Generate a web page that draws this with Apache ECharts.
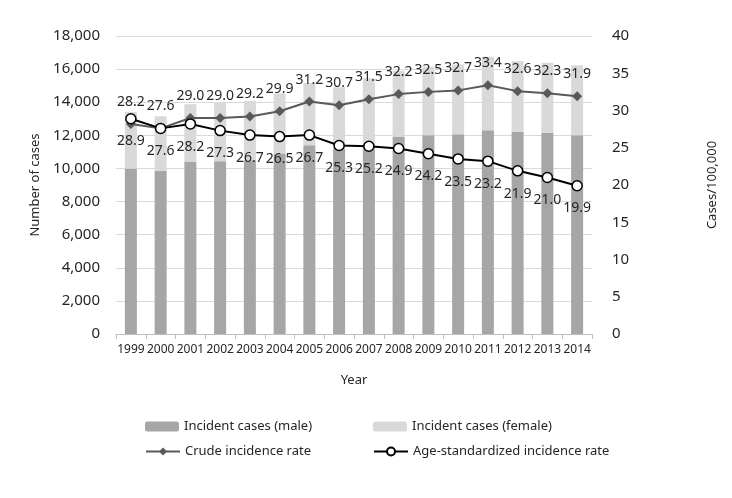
<!DOCTYPE html>
<html>
<head>
<meta charset="utf-8">
<script src="https://cdn.jsdelivr.net/npm/echarts@6/dist/echarts.min.js"></script>
<style>
html,body{margin:0;padding:0;background:#fff;}
#chart{width:732px;height:498px;}
</style>
</head>
<body>
<div id="chart"></div>
<script>
var years = ['1999','2000','2001','2002','2003','2004','2005','2006','2007','2008','2009','2010','2011','2012','2013','2014'];
var maleCases = [9990, 9850, 10390, 10440, 10500, 10900, 11400, 11200, 11500, 11900, 12000, 12070, 12310, 12210, 12150, 12000];
var femaleCases = [3410, 3300, 3490, 3520, 3580, 3630, 3770, 3700, 3950, 3980, 4150, 4210, 4440, 4270, 4230, 4240];
var crudeRate = [28.2, 27.6, 29.0, 29.0, 29.2, 29.9, 31.2, 30.7, 31.5, 32.2, 32.5, 32.7, 33.4, 32.6, 32.3, 31.9];
var asRate = [28.9, 27.6, 28.2, 27.3, 26.7, 26.5, 26.7, 25.3, 25.2, 24.9, 24.2, 23.5, 23.2, 21.9, 21.0, 19.9];

var FONT = 'Noto Sans';
var TXT = '#262626';
var chart = echarts.init(document.getElementById('chart'), null, {renderer:'canvas'});
function legendAt(name, left, top){
  return {
    data:[name], left:left, top:top, itemWidth:34, itemHeight:10, itemGap:6,
    padding:0,
    textStyle:{fontFamily:FONT, fontSize:13, color:TXT}
  };
}
var lblStyle = {fontFamily:FONT, fontSize:14, color:TXT};
chart.setOption({
  animation:false,
  backgroundColor:'#fff',
  grid:{left:116, right:140, top:36, bottom:164, containLabel:false},
  legend:[
    legendAt('Incident cases (male)',145,420),
    legendAt('Incident cases (female)',373,420),
    legendAt('Crude incidence rate',145,445),
    legendAt('Age-standardized incidence rate',373,445)
  ],
  xAxis:{
    type:'category', data:years, boundaryGap:true,
    axisLine:{show:true, lineStyle:{color:'#bfbfbf', width:1}},
    axisTick:{show:true, length:5, alignWithLabel:false, lineStyle:{color:'#bfbfbf'}},
    axisLabel:{fontFamily:FONT, fontSize:12, color:TXT, margin:10, interval:0},
    name:'Year', nameLocation:'middle', nameGap:40,
    nameTextStyle:{fontFamily:FONT, fontSize:13, color:TXT}
  },
  yAxis:[
    {
      type:'value', min:0, max:18000, interval:2000,
      axisLine:{show:false}, axisTick:{show:false},
      splitLine:{show:true, lineStyle:{color:'#d9d9d9', width:1}},
      axisLabel:{fontFamily:FONT, fontSize:15, color:TXT, margin:16,
        formatter:function(v){return v.toLocaleString('en-US');}},
      name:'Number of cases', nameLocation:'middle', nameRotate:90, nameGap:72,
      nameTextStyle:{fontFamily:FONT, fontSize:13, color:TXT}
    },
    {
      type:'value', min:0, max:40, interval:5, position:'right',
      axisLine:{show:false}, axisTick:{show:false}, splitLine:{show:false},
      axisLabel:{fontFamily:FONT, fontSize:15, color:TXT, margin:20},
      name:'Cases/100,000', nameLocation:'middle', nameRotate:90, nameGap:114,
      nameTextStyle:{fontFamily:FONT, fontSize:13, color:TXT}
    }
  ],
  series:[
    {name:'Incident cases (male)', type:'bar', stack:'cases', data:maleCases, barWidth:12,
     itemStyle:{color:'#a6a6a6'}, z:1},
    {name:'Incident cases (female)', type:'bar', stack:'cases', data:femaleCases, barWidth:12,
     itemStyle:{color:'#d9d9d9'}, z:1},
    {name:'Crude incidence rate', type:'line', yAxisIndex:1, data:crudeRate,
     symbol:'diamond', symbolSize:10, showAllSymbol:true,
     lineStyle:{color:'#595959', width:2}, itemStyle:{color:'#595959', borderWidth:0},
     label:{show:true, position:'top', distance:10, formatter:function(p){return p.value.toFixed(1);}, fontFamily:FONT, fontSize:14, color:TXT},
     z:3},
    {name:'Age-standardized incidence rate', type:'line', yAxisIndex:1, data:asRate,
     symbol:'circle', symbolSize:10, showAllSymbol:true,
     lineStyle:{color:'#000', width:2}, itemStyle:{color:'#fff', borderColor:'#000', borderWidth:1.5},
     label:{show:true, position:'bottom', distance:10, formatter:function(p){return p.value.toFixed(1);}, fontFamily:FONT, fontSize:14, color:TXT},
     z:4}
  ]
});
</script>
</body>
</html>
